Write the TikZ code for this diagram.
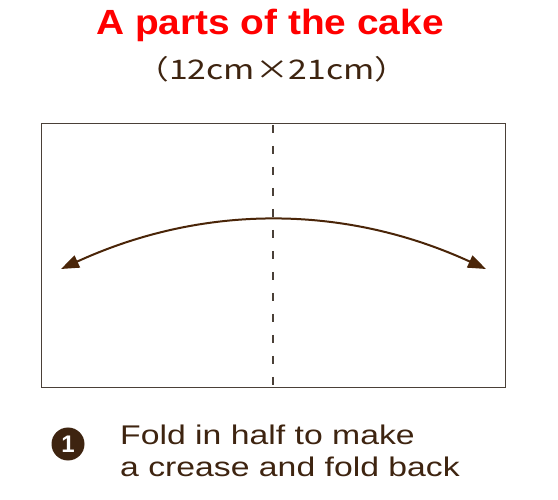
\documentclass[tikz,border=0pt]{standalone}
\usepackage{fontspec}
\setmainfont{Liberation Sans}
\newfontfamily\cjkfont{Noto Sans CJK JP}
\usetikzlibrary{arrows.meta}
\definecolor{ink}{HTML}{3E2410}
\definecolor{arr}{HTML}{4A2508}
\definecolor{edge}{HTML}{4A4038}
\tikzset{
  titletext/.style={text=red,font=\fontsize{35}{38}\selectfont\bfseries,inner sep=0pt,anchor=base},
  subtext/.style={text=ink,font=\cjkfont\fontsize{27}{30}\selectfont,inner sep=0pt,anchor=base},
  bodytext/.style={text=ink,font=\fontsize{27}{31}\selectfont,inner sep=0pt,anchor=base west},
  paper/.style={draw=edge,line width=1pt,fill=white},
  crease/.style={draw=edge,line width=1.2pt,dash pattern=on 8pt off 13pt},
  bendarrow/.style={draw=arr,line width=2pt,{Triangle[length=18pt,width=13pt]}-{Triangle[length=18pt,width=13pt]}},
  numcircle/.style={circle,fill=ink,minimum size=33pt,inner sep=0pt,text=white,font=\fontsize{24}{25}\selectfont\bfseries}
}
\begin{document}
\begin{tikzpicture}[x=1pt,y=-1pt]
\useasboundingbox (0,0) rectangle (558,500);
\node[titletext] (title) at (270,35) {\scalebox{1.11}[1]{A parts of the cake}};
\node[subtext] (sub) at (272,80) {\scalebox{1.25}[1]{（12cm×21cm）}};
\node[paper,minimum width=464pt,minimum height=264pt,inner sep=0pt] (sheet) at (273,256) {};
\coordinate (ctop) at (273,125);
\coordinate (cbot) at (273,387);
\draw[crease] (ctop) -- (cbot);
\coordinate (lend) at (61,269);
\coordinate (rend) at (486,269);
\draw[bendarrow] (lend) .. controls (202.7,204) and (344.3,204) .. (rend);
\node[numcircle] (num) at (68,444) {1};
\node[bodytext] (line1) at (120,444) {\scalebox{1.25}[1]{Fold in half to make}};
\node[bodytext] (line2) at (120,476) {\scalebox{1.25}[1]{a crease and fold back}};
\end{tikzpicture}
\end{document}
